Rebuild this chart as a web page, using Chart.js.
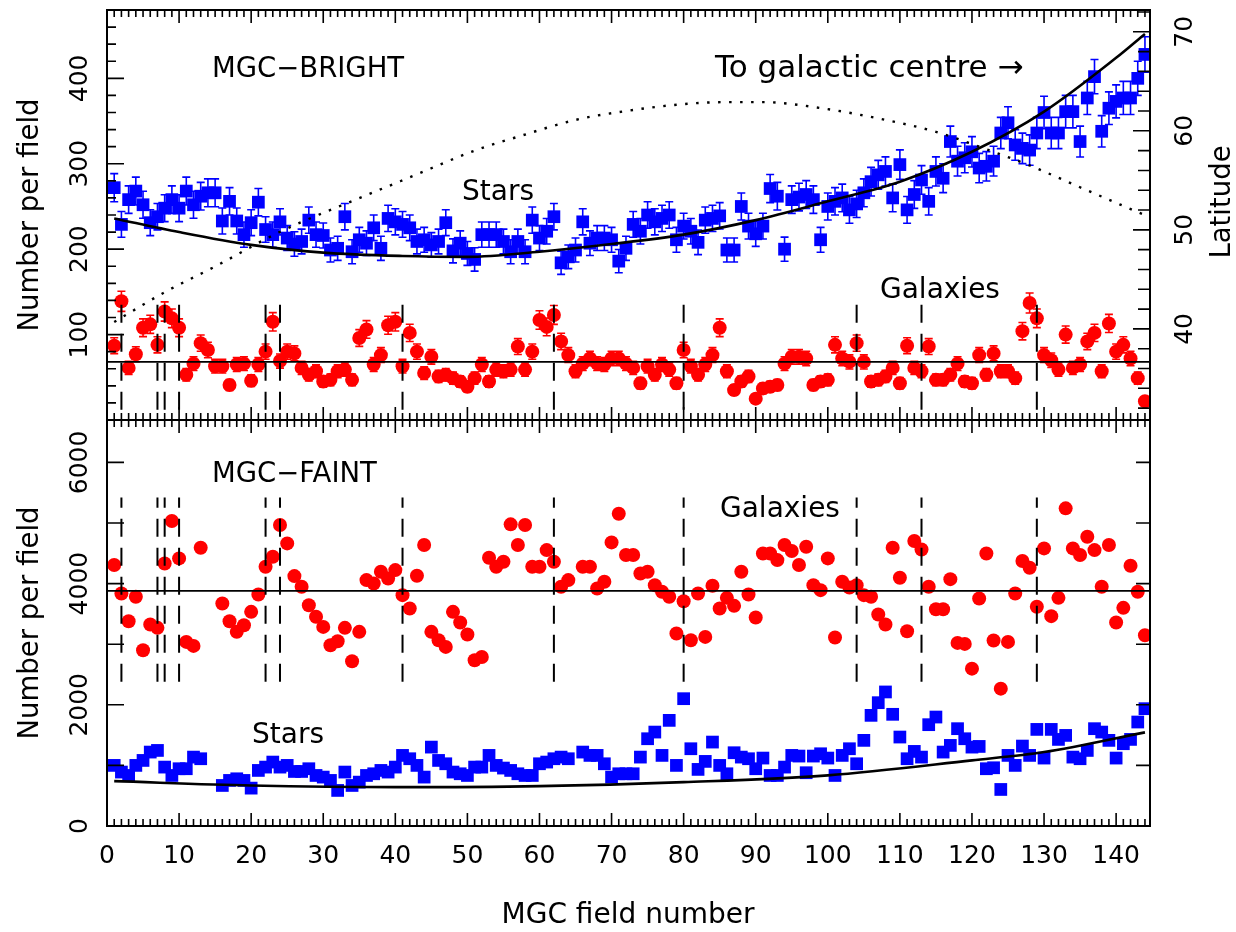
<!DOCTYPE html>
<html>
<head>
<meta charset="utf-8">
<script src="https://cdn.jsdelivr.net/npm/chart.js@4.4.1/dist/chart.umd.min.js"></script>
<style>
  body { margin: 0; background: #fff; }
  #wrap { position: relative; width: 1236px; height: 932px; }
  canvas { position: absolute; left: 0; }
  #top { top: 0; }
  #bottom { top: 418px; }
</style>
</head>
<body>
<div id="wrap">
  <canvas id="top" width="1236" height="422"></canvas>
  <canvas id="bottom" width="1236" height="514"></canvas>
</div>
<script>
// ---- data ----
const fieldNumbers = Array.from({ length: 144 }, (_, i) => i + 1);

// MGC-BRIGHT counts per field
const brightStars = [
  272, 229, 258, 268, 252, 231, 238, 248, 258, 248, 268, 252, 262, 266, 266, 233, 256, 233, 217, 231,
  255, 223, 217, 232, 213, 206, 209, 234, 217, 216, 199, 201, 238, 197, 211, 207, 225, 201, 236, 232,
  229, 225, 209, 211, 205, 209, 231, 198, 207, 195, 188, 217, 217, 217, 209, 197, 209, 197, 234, 213,
  221, 238, 184, 191, 199, 232, 207, 213, 213, 211, 186, 201, 229, 221, 240, 232, 236, 240, 211, 227,
  221, 208, 234, 236, 239, 199, 199, 250, 227, 218, 227, 271, 262, 200, 258, 261, 264, 258, 211, 250,
  256, 260, 246, 253, 266, 279, 287, 291, 260, 299, 246, 264, 281, 256, 291, 283, 326, 303, 307, 314,
  295, 297, 303, 336, 348, 322, 318, 316, 336, 360, 336, 336, 361, 361, 326, 377, 402, 338, 365, 373,
  377, 377, 400, 428
];
const brightGalaxies = [
  87, 139, 61, 77, 108, 112, 88, 127, 119, 108, 53, 66, 90, 82, 63, 63, 41, 65, 66, 46,
  65, 80, 115, 69, 80, 78, 61, 53, 57, 45, 47, 57, 59, 47, 96, 106, 65, 76, 111, 115,
  63, 102, 80, 55, 74, 51, 53, 49, 45, 39, 49, 65, 45, 59, 57, 59, 86, 59, 80, 117,
  109, 123, 92, 76, 57, 66, 72, 66, 65, 72, 72, 66, 61, 43, 63, 53, 65, 59, 43, 82,
  63, 53, 65, 76, 108, 57, 35, 45, 51, 25, 37, 39, 41, 66, 74, 74, 72, 41, 45, 47,
  88, 72, 68, 90, 68, 45, 47, 51, 61, 43, 87, 61, 57, 86, 47, 47, 53, 66, 45, 43,
  76, 53, 78, 57, 57, 49, 104, 137, 119, 76, 70, 59, 100, 61, 65, 92, 102, 57, 113, 80,
  88, 72, 49, 22
];

// MGC-FAINT counts per field (null = no point plotted)
const faintGalaxies = [
  4306, 3837, 3380, 3782, 2900, 3325, 3270, 4333, 5033, 4416, 3038, 2972, 4592, null, null, 3672, 3380, 3204, 3314, 3534,
  3821, 4278, 4443, 4967, 4664, 4124, 3947, 3644, 3452, 3286, 2983, 3049, 3270, 2719, 3204, 4058, 4003, 4195, 4085, 4223,
  3810, 3589, 4129, 4636, 3204, 3066, 2956, 3534, 3358, 3159, 2735, 2790, 4427, 4278, 4361, 4978, 4636, 4967, 4278, 4278,
  4553, 4361, 3947, 4058, null, 4278, 4278, 3920, 4030, 4680, 5154, 4471, 4471, 4168, 4195, 3975, 3865, 3782, 3176, 3710,
  3066, 3837, 3121, 3964, 3589, 3765, 3633, 4195, 3821, 3440, 4498, 4498, 4388, 4636, 4537, 4306, 4608, 3975, 3892, 4416,
  3110, 4030, 3936, 3975, 3810, 3782, 3490, 3325, 4592, 4096, 3215, 4702, 4564, 3947, 3578, 3578, 4074, 3022, 3005, 2597,
  3754, 4498, 3060, 2267, 3038, 3837, 4372, 4261, 3617, 4581, 3463, 3765, 5242, 4581, 4471, 4774, 4553, 3947, 4636, 3358,
  3600, 4295, 3865, 3148
];
const faintStars = [
  1000, 890, 834, 1000, 1082, 1220, 1247, 972, 834, 945, 945, 1137, 1110, null, null, 669, 752, 779, 752, 625,
  917, 972, 1055, 972, 1000, 900, 900, 945, 834, 807, 752, 587, 890, 669, 724, 834, 862, 917, 890, 972,
  1165, 1110, 1000, 807, 1302, 1082, 1027, 890, 862, 834, 972, 972, 1165, 1000, 956, 917, 862, 834, 834, 1027,
  1055, 1110, 1137, 1110, null, 1220, 1165, 1165, 1027, 807, 862, 862, 862, 1137, 1440, 1550, 1165, 1743, 1000, 2101,
  1275, 934, 1066, 1385, 1000, 862, 1209, 1137, 1110, 945, 1121, 834, 834, 972, 1165, 1154, 879, 1154, 1192, 1121,
  834, 1165, 1275, 1027, 1413, 1826, 2035, 2212, 1843, 1468, 1110, 1231, 1137, 1672, 1798, 1220, 1330, 1606, 1440, 1302,
  1313, 945, 961, 603, 1165, 1000, 1319, 1165, 1594, 1121, 1594, 1429, 1495, 1137, 1110, 1247, 1606, 1550, 1413, 1121,
  1358, 1429, 1716, 1936
];

// model curves for the stars
const brightFitFields = [1, 10, 20, 30, 41, 50, 60, 70, 80, 90, 100, 110, 120, 130, 140, 144];
const brightFitValues = [236, 220, 205, 196, 192, 191, 197, 206, 217, 234, 256, 279, 314, 361, 424, 452];
const faintFitFields = [1, 20, 40, 60, 80, 100, 120, 130, 144];
const faintFitValues = [740, 669, 641, 658, 724, 835, 1083, 1220, 1545];

// galactic latitude of each field (right axis, dotted)
const latFields = [1, 8, 15, 24, 36, 42, 51, 57, 65, 72, 80, 86, 91, 99, 108, 115, 121, 128, 135, 143, 144];
const latValues = [40.7, 43.7, 46.3, 49.8, 53.5, 55.3, 58.0, 59.4, 61.1, 62.0, 62.7, 62.9, 62.9, 62.3, 61.1, 59.9, 58.4, 56.5, 54.3, 51.8, 51.5];

// mean galaxy counts and field-strip boundaries
const brightGalaxyMean = 68;
const faintGalaxyMean = 3880;
const dividerFields = [2, 7, 8, 10, 22, 24, 41, 62, 80, 104, 113, 129];
const brightDividerRange = [12, 146];
const faintDividerRange = [2380, 5420];

// tick labels
const xTickValues = [0, 10, 20, 30, 40, 50, 60, 70, 80, 90, 100, 110, 120, 130, 140];
const brightTickValues = [100, 200, 300, 400];
const latTickValues = [40, 50, 60, 70];
const faintTickValues = [0, 2000, 4000, 6000];

// ---- drawing ----
const BLUE = '#0000ff';
const RED = '#ff0000';
const FONT = '"DejaVu Sans", sans-serif';
const TICK_FONT = '25px ' + FONT;
const TITLE_FONT = '27.5px ' + FONT;
const NOTE_FONT = '28px ' + FONT;
const X_MAX = 144.7;

Chart.defaults.font.family = FONT;
Chart.defaults.color = '#000';

function pts(xs, ys) {
  return xs.map((x, i) => ({ x: x, y: ys[i] })).filter(p => p.y !== null);
}

function lineSet(data, extra) {
  return Object.assign({
    type: 'line', data: data, borderColor: '#000', borderWidth: 2,
    pointRadius: 0, fill: false
  }, extra);
}

function dividerSets(range, axis) {
  return dividerFields.map(f => lineSet([{ x: f, y: range[0] }, { x: f, y: range[1] }],
    { borderDash: [18, 11], borderWidth: 2, yAxisID: axis }));
}

function setTicks(values) {
  return scale => { scale.ticks = values.map(v => ({ value: v })); };
}

function upright(ctx, text, baseX, centerY) {
  ctx.save();
  ctx.translate(baseX, centerY);
  ctx.rotate(-Math.PI / 2);
  ctx.textAlign = 'center';
  ctx.textBaseline = 'alphabetic';
  ctx.fillText(text, 0, 0);
  ctx.restore();
}

// frame with inward ticks, rotated labels, annotations and Poisson error bars
function pgPlugin(cfg) {
  return {
    id: 'pg',
    beforeDatasetsDraw(chart) {
      const ctx = chart.ctx;
      chart.data.datasets.forEach((ds, i) => {
        if (!ds.errorBars) return;
        const meta = chart.getDatasetMeta(i);
        const ys = chart.scales[meta.yAxisID];
        ctx.save();
        ctx.strokeStyle = ds.borderColor;
        ctx.lineWidth = 1.6;
        ctx.beginPath();
        meta.data.forEach((el, j) => {
          const v = ds.data[j].y;
          const e = Math.sqrt(v);
          const y1 = ys.getPixelForValue(v - e);
          const y2 = ys.getPixelForValue(v + e);
          ctx.moveTo(el.x, y1); ctx.lineTo(el.x, y2);
          ctx.moveTo(el.x - 4, y1); ctx.lineTo(el.x + 4, y1);
          ctx.moveTo(el.x - 4, y2); ctx.lineTo(el.x + 4, y2);
        });
        ctx.stroke();
        ctx.restore();
      });
    },
    afterDraw(chart) {
      const { ctx, chartArea: a, scales } = chart;
      ctx.save();
      ctx.strokeStyle = '#000';
      ctx.lineWidth = 2;
      ctx.strokeRect(a.left, a.top, a.right - a.left, a.bottom - a.top);

      ctx.lineWidth = 1.6;
      ctx.beginPath();
      const xs = scales.x;
      for (let v = 0; v <= xs.max; v++) {
        const px = xs.getPixelForValue(v);
        const len = v % 10 === 0 ? 13 : 7;
        ctx.moveTo(px, a.top); ctx.lineTo(px, a.top + len);
        ctx.moveTo(px, a.bottom); ctx.lineTo(px, a.bottom - len);
      }
      cfg.yMarks.forEach(m => {
        const s = scales[m.id];
        for (let v = m.start; v <= s.max + 1e-9; v += m.step) {
          const py = s.getPixelForValue(v);
          const len = Math.abs(v % m.major) < 1e-6 ? m.longLen : m.shortLen;
          const x0 = m.side === 'left' ? a.left : a.right;
          const dir = m.side === 'left' ? 1 : -1;
          ctx.moveTo(x0, py); ctx.lineTo(x0 + dir * len, py);
        }
      });
      ctx.stroke();

      ctx.fillStyle = '#000';
      ctx.font = TICK_FONT;
      cfg.yLabels.forEach(l => {
        const s = scales[l.id];
        s.ticks.forEach(t => upright(ctx, String(t.value), l.x, s.getPixelForValue(t.value)));
      });
      ctx.font = TITLE_FONT;
      cfg.titles.forEach(t => upright(ctx, t.text, t.x, t.y === undefined ? (a.top + a.bottom) / 2 : t.y));
      cfg.notes.forEach(n => {
        ctx.font = n.font || NOTE_FONT;
        ctx.textAlign = n.align || 'left';
        ctx.textBaseline = 'alphabetic';
        ctx.fillText(n.text, n.x, n.y);
      });
      ctx.restore();
    }
  };
}

const baseOptions = {
  responsive: false,
  animation: false,
  devicePixelRatio: 1,
  events: [],
  plugins: { legend: { display: false }, tooltip: { enabled: false } }
};

// ---- top panel: MGC-BRIGHT ----
new Chart(document.getElementById('top'), {
  type: 'scatter',
  data: {
    datasets: [
      lineSet(pts(brightFitFields, brightFitValues), { borderWidth: 2.6, cubicInterpolationMode: 'monotone', yAxisID: 'y' }),
      lineSet(pts(latFields, latValues), { borderWidth: 2.4, borderDash: [2.5, 8.5], cubicInterpolationMode: 'monotone', yAxisID: 'lat' }),
      lineSet([{ x: 0, y: brightGalaxyMean }, { x: X_MAX, y: brightGalaxyMean }], { borderWidth: 1.6, yAxisID: 'y' }),
      ...dividerSets(brightDividerRange, 'y'),
      {
        label: 'Stars', data: pts(fieldNumbers, brightStars), yAxisID: 'y', errorBars: true,
        pointStyle: 'rect', pointRadius: 9, backgroundColor: BLUE, borderColor: BLUE, borderWidth: 0
      },
      {
        label: 'Galaxies', data: pts(fieldNumbers, brightGalaxies), yAxisID: 'y', errorBars: true,
        pointStyle: 'circle', pointRadius: 7, backgroundColor: RED, borderColor: RED, borderWidth: 0
      }
    ]
  },
  options: Object.assign({}, baseOptions, {
    layout: { autoPadding: false, padding: { top: 10, bottom: 2, left: 0, right: 0 } },
    scales: {
      x: { type: 'linear', min: 0, max: X_MAX, display: false },
      y: {
        type: 'linear', position: 'left', min: 0, max: 480,
        ticks: { display: false }, grid: { display: false }, border: { display: false },
        afterBuildTicks: setTicks(brightTickValues),
        afterFit: s => { s.width = 107; }
      },
      lat: {
        type: 'linear', position: 'right', min: 30.8, max: 72.2,
        ticks: { display: false }, grid: { display: false }, border: { display: false },
        afterBuildTicks: setTicks(latTickValues),
        afterFit: s => { s.width = 86; }
      }
    }
  }),
  plugins: [pgPlugin({
    yMarks: [
      { id: 'y', side: 'left', start: 0, step: 20, major: 100, shortLen: 9, longLen: 17 },
      { id: 'lat', side: 'right', start: 32, step: 2, major: 10, shortLen: 12, longLen: 17 }
    ],
    yLabels: [{ id: 'y', x: 87 }, { id: 'lat', x: 1192 }],
    titles: [{ text: 'Number per field', x: 38 }, { text: 'Latitude', x: 1230, y: 202 }],
    notes: [
      { text: 'MGC\u2212BRIGHT', x: 212, y: 77, font: '27.5px ' + FONT },
      { text: 'To galactic centre \u2192', x: 715, y: 77, font: '31px ' + FONT },
      { text: 'Stars', x: 462, y: 200 },
      { text: 'Galaxies', x: 880, y: 298 }
    ]
  })]
});

// ---- bottom panel: MGC-FAINT ----
new Chart(document.getElementById('bottom'), {
  type: 'scatter',
  data: {
    datasets: [
      lineSet(pts(faintFitFields, faintFitValues), { borderWidth: 2.6, cubicInterpolationMode: 'monotone', yAxisID: 'y' }),
      lineSet([{ x: 0, y: faintGalaxyMean }, { x: X_MAX, y: faintGalaxyMean }], { borderWidth: 1.6, yAxisID: 'y' }),
      ...dividerSets(faintDividerRange, 'y'),
      {
        label: 'Stars', data: pts(fieldNumbers, faintStars), yAxisID: 'y',
        pointStyle: 'rect', pointRadius: 9, backgroundColor: BLUE, borderColor: BLUE, borderWidth: 0
      },
      {
        label: 'Galaxies', data: pts(fieldNumbers, faintGalaxies), yAxisID: 'y',
        pointStyle: 'circle', pointRadius: 7, backgroundColor: RED, borderColor: RED, borderWidth: 0
      }
    ]
  },
  options: Object.assign({}, baseOptions, {
    layout: { autoPadding: false, padding: { top: 2, bottom: 0, left: 0, right: 86 } },
    scales: {
      x: {
        type: 'linear', position: 'bottom', min: 0, max: X_MAX,
        grid: { display: false, drawTicks: false }, border: { display: false },
        ticks: { color: '#000', font: { size: 25 }, padding: 15, maxRotation: 0, autoSkip: false },
        afterBuildTicks: setTicks(xTickValues),
        afterFit: s => { s.height = 106; }
      },
      y: {
        type: 'linear', position: 'left', min: 0, max: 6700,
        ticks: { display: false }, grid: { display: false }, border: { display: false },
        afterBuildTicks: setTicks(faintTickValues),
        afterFit: s => { s.width = 107; }
      }
    }
  }),
  plugins: [pgPlugin({
    yMarks: [
      { id: 'y', side: 'left', start: 0, step: 1000, major: 1000, shortLen: 17, longLen: 17 },
      { id: 'y', side: 'right', start: 0, step: 1000, major: 1000, shortLen: 14, longLen: 14 }
    ],
    yLabels: [{ id: 'y', x: 87 }],
    titles: [{ text: 'Number per field', x: 38 }],
    notes: [
      { text: 'MGC\u2212FAINT', x: 212, y: 64, font: '27.5px ' + FONT },
      { text: 'Galaxies', x: 720, y: 99 },
      { text: 'Stars', x: 252, y: 325 },
      { text: 'MGC field number', x: 628, y: 505, align: 'center' }
    ]
  })]
});
</script>
</body>
</html>
